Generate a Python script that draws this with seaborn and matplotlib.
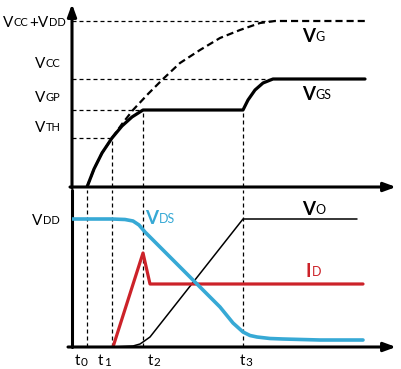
import numpy as np
import pandas as pd
import matplotlib
matplotlib.use('Agg')
import matplotlib.pyplot as plt
import seaborn as sns

# instantes de tempo (unidades arbitrárias)
t_marks = {'0': 1.5, '1': 4.0, '2': 7.1, '3': 17.1}

# níveis do gráfico de porta
V_TH, V_GP, V_CC, V_CCDD = 4.9, 7.7, 10.8, 16.6
V_DD = 12.8

# V_GS (linha cheia)
vgs_t = [1.5, 2.2, 3.0, 4.0, 5.0, 6.0, 7.1, 17.1, 17.6, 18.3, 19.1, 20.1, 29.3]
vgs_v = [0.0, 1.8, 3.4, 4.9, 6.1, 7.0, 7.7, 7.7, 8.7, 9.7, 10.4, 10.8, 10.8]

# V_G (tracejada)
vg_t = [1.5, 2.2, 3.0, 4.0, 5.0, 6.1, 7.6, 9.1, 10.8, 12.8, 14.8, 16.8, 18.8, 20.3, 29.5]
vg_v = [0.0, 1.8, 3.4, 4.9, 6.3, 7.7, 9.3, 10.8, 12.4, 13.7, 14.9, 15.7, 16.4, 16.6, 16.6]

# V_DS
vds_t = [0.0, 4.0, 5.3, 6.1, 6.7, 7.3, 12.8, 14.8, 16.1, 17.1, 17.8, 18.5, 19.8, 21.1, 24.8, 29.1]
vds_v = [12.8, 12.8, 12.75, 12.6, 12.2, 11.5, 6.0, 4.0, 2.4, 1.5, 1.15, 1.0, 0.85, 0.8, 0.7, 0.7]

# I_D
id_t = [4.1, 7.1, 7.8, 29.1]
id_v = [0.0, 9.4, 6.3, 6.3]

# V_O
vo_t = [4.1, 6.1, 6.8, 7.1, 7.8, 17.1, 28.5]
vo_v = [0.0, 0.1, 0.3, 0.5, 1.0, 12.8, 12.8]

C_CYAN = '#37a9d5'
C_RED = '#cc2229'

sns.set_theme(style='white')
plt.rcParams['font.family'] = ['Lato', 'DejaVu Sans']

fig = plt.figure(figsize=(4.02, 3.69), dpi=100)
ax_top = fig.add_axes([72 / 402, 182 / 369, 330 / 402, 187 / 369])
ax_bot = fig.add_axes([72 / 402, 22 / 369, 330 / 402, 157 / 369])
ax_top.set_xlim(0, 33)
ax_top.set_ylim(0, 18.7)
ax_bot.set_xlim(0, 33)
ax_bot.set_ylim(0, 15.7)
for ax in (ax_top, ax_bot):
    ax.set_axis_off()

arrow = dict(arrowstyle='-|>,head_length=0.6,head_width=0.22', lw=2.2,
             color='black', shrinkA=0, shrinkB=0)
ax_top.annotate('', xy=(0, 18.3), xytext=(0, -0.1), arrowprops=arrow)
ax_top.annotate('', xy=(32.4, 0), xytext=(-0.2, 0), arrowprops=arrow)
ax_bot.plot([0, 0], [0, 15.7], color='black', lw=2.2, clip_on=False)
ax_bot.annotate('', xy=(32.4, 0), xytext=(-0.4, 0), arrowprops=arrow)

# linhas guia tracejadas
guide = dict(colors='black', lw=0.9, linestyles=[(0, (3.2, 2.4))])
ax_top.hlines([V_CCDD, V_CC, V_GP, V_TH], 0, [20.3, 20.1, t_marks['2'], t_marks['1']], **guide)
ax_top.vlines([t_marks['1'], t_marks['2'], t_marks['3']], 0, [V_TH, V_GP, V_GP], **guide)
ax_bot.vlines(list(t_marks.values()), 0, 15.7, **guide)

# curvas
sns.lineplot(x=vg_t, y=vg_v, sort=False, estimator=None, ax=ax_top, color='black',
             lw=1.6, linestyle=(0, (3.2, 1.8)))
sns.lineplot(x=vgs_t, y=vgs_v, sort=False, estimator=None, ax=ax_top, color='black', lw=2.3)
sns.lineplot(x=vo_t, y=vo_v, sort=False, estimator=None, ax=ax_bot, color='black', lw=1.1)
sns.lineplot(x=id_t, y=id_v, sort=False, estimator=None, ax=ax_bot, color=C_RED, lw=2.3)
sns.lineplot(x=vds_t, y=vds_v, sort=False, estimator=None, ax=ax_bot, color=C_CYAN, lw=2.6)


def label(ax, x, y, parts, color='black'):
    # parts: lista de (texto, tamanho, peso, deslocamento vertical)
    s, size, weight, dy = parts[0]
    prev = ax.text(x, y, s, fontsize=size, fontweight=weight, color=color,
                   ha='left', va='baseline')
    for s, size, weight, dy in parts[1:]:
        prev = ax.annotate(s, xy=(1, 0), xycoords=prev, xytext=(0.3, dy),
                           textcoords='offset points', fontsize=size,
                           fontweight=weight, color=color, ha='left', va='bottom')


def vsub(sub, big=11, small=8, weight='normal', subweight='normal', dy=1.2):
    return [('V', big, weight, 0), (sub, small, subweight, dy)]


label(ax_top, -6.9, 16.0, vsub('CC') + [('+V', 11, 'normal', -1.2), ('DD', 8, 'normal', 1.2)])
label(ax_top, -3.7, 11.9, vsub('CC'))
label(ax_top, -3.7, 8.5, vsub('GP'))
label(ax_top, -3.7, 5.5, vsub('TH'))
label(ax_bot, -4.0, 12.2, vsub('DD'))

label(ax_top, 23.0, 14.5, vsub('G', 13.5, 9, 'bold', dy=1.6))
label(ax_top, 23.0, 8.7, vsub('GS', 13.5, 9, 'bold', dy=1.6))
label(ax_bot, 7.3, 12.3, vsub('DS', 13.5, 9, 'bold', dy=1.6), color=C_CYAN)
label(ax_bot, 23.0, 13.2, vsub('O', 13.5, 9, 'bold', dy=1.6))
label(ax_bot, 23.4, 7.0, [('I', 13.5, 'bold', 0), ('D', 9, 'normal', 1.6)], color=C_RED)

tick_x = {'0': 0.3, '1': 2.6, '2': 7.6, '3': 16.8}
for k, xv in tick_x.items():
    label(ax_bot, xv, -1.8, [('t', 11, 'normal', 0), (k, 8.5, 'normal', 0.2)])

fig.savefig('out.png', dpi=100)
